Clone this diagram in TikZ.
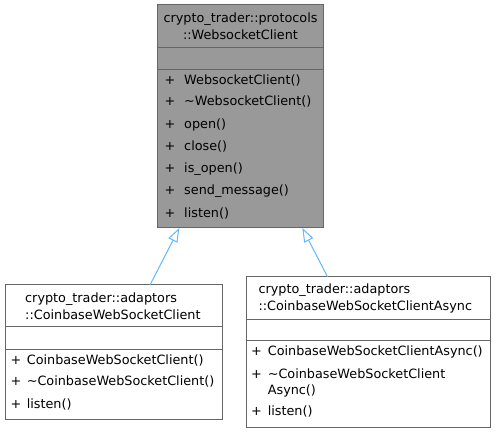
\documentclass[tikz,border=0pt]{standalone}
\usepackage{fontspec}
\setmainfont{DejaVu Sans}
\usetikzlibrary{arrows.meta,calc}
\definecolor{boxline}{HTML}{666666}
\definecolor{boxgray}{HTML}{999999}
\definecolor{edgeblue}{HTML}{63B8FF}
\tikzset{
  cls/.style={draw=boxline, line width=1pt, inner sep=0pt, outer sep=0pt, anchor=north west},
  divider/.style={draw=boxline, line width=1pt},
  ttl/.style={inner sep=0pt, font=\fontsize{12.8}{17}\selectfont},
  meth/.style={inner sep=0pt, anchor=west, font=\fontsize{12.8}{16}\selectfont, align=left},
  inherit/.style={draw=edgeblue, line width=1pt, -{Triangle[open, length=14pt, width=10pt, fill=white]}}
}
\begin{document}
\begin{tikzpicture}[x=1pt, y=-1pt]
\fill[white] (0,0) rectangle (496,433);
\useasboundingbox (0,0) rectangle (496,433);

% top class
\node[cls, fill=boxgray, minimum width=166pt, minimum height=223pt] (top) at (157.5,5) {};
\draw[divider] ($(top.north west)+(0,42.3)$) -- ($(top.north east)+(0,42.3)$);
\draw[divider] ($(top.north west)+(0,64.7)$) -- ($(top.north east)+(0,64.7)$);
\node[ttl, align=center] (toptitle) at (240.5,26.5) {crypto\_trader::protocols\\::WebsocketClient};
\node[meth] (tm1) at (164.5,80) {+\hspace{8.8pt}WebsocketClient()};
\node[meth] (tm2) at (164.5,101.8) {+\hspace{8.8pt}\textasciitilde WebsocketClient()};
\node[meth] (tm3) at (164.5,124.5) {+\hspace{8.8pt}open()};
\node[meth] (tm4) at (164.5,146.8) {+\hspace{8.8pt}close()};
\node[meth] (tm5) at (164.5,169.2) {+\hspace{8.8pt}is\_open()};
\node[meth] (tm6) at (164.5,191.5) {+\hspace{8.8pt}send\_message()};
\node[meth] (tm7) at (164.5,213.5) {+\hspace{8.8pt}listen()};

% left class
\node[cls, fill=white, minimum width=217pt, minimum height=134pt] (left) at (5,285) {};
\draw[divider] ($(left.north west)+(0,41.7)$) -- ($(left.north east)+(0,41.7)$);
\draw[divider] ($(left.north west)+(0,64.3)$) -- ($(left.north east)+(0,64.3)$);
\node[ttl, align=left, anchor=west] (lefttitle) at (25,306.4) {crypto\_trader::adaptors\\::CoinbaseWebSocketClient};
\node[meth] (lm1) at (10.3,360) {+\hspace{5.6pt}CoinbaseWebSocketClient()};
\node[meth] (lm2) at (10.3,381.7) {+\hspace{5.6pt}\textasciitilde CoinbaseWebSocketClient()};
\node[meth] (lm3) at (10.3,404.5) {+\hspace{5.6pt}listen()};

% right class
\node[cls, fill=white, minimum width=244.7pt, minimum height=150.6pt] (right) at (246,276.7) {};
\draw[divider] ($(right.north west)+(0,42.3)$) -- ($(right.north east)+(0,42.3)$);
\draw[divider] ($(right.north west)+(0,64)$) -- ($(right.north east)+(0,64)$);
\node[ttl, align=left, anchor=west] (righttitle) at (258.3,298.4) {crypto\_trader::adaptors\\::CoinbaseWebSocketClientAsync};
\node[meth] (rm1) at (251,351.7) {+\hspace{5.9pt}CoinbaseWebSocketClientAsync()};
\node[meth] (rm2) at (251,383.4) {+\hspace{5.9pt}\textasciitilde CoinbaseWebSocketClient\\\phantom{+}\hspace{5.9pt}Async()};
\node[meth] (rm3) at (251,411.7) {+\hspace{5.9pt}listen()};

% inheritance edges
\draw[inherit] ($(left.north west)+(145,0)$) -- ($(top.south west)+(21.8,0)$);
\draw[inherit] ($(right.north west)+(81.5,0)$) -- ($(top.south west)+(144.8,0)$);
\end{tikzpicture}
\end{document}
